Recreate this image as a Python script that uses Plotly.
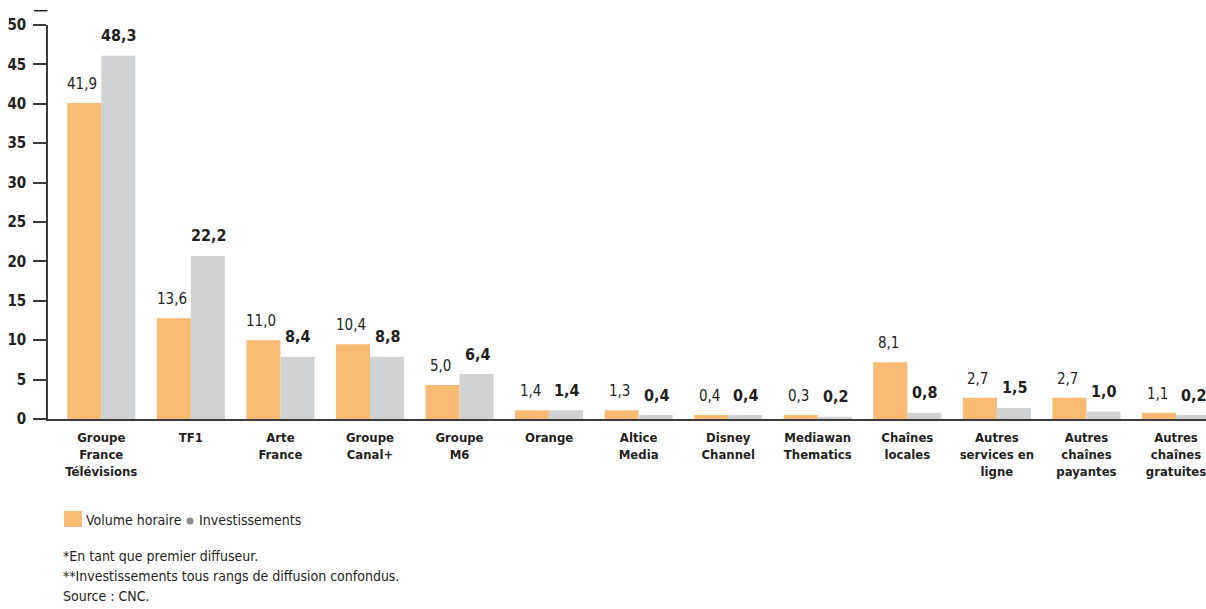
import plotly.graph_objects as go

categories = [
    "Groupe<br>France<br>Télévisions", "TF1", "Arte<br>France", "Groupe<br>Canal+",
    "Groupe<br>M6", "Orange", "Altice<br>Media", "Disney<br>Channel",
    "Mediawan<br>Thematics", "Chaînes<br>locales", "Autres<br>services en<br>ligne",
    "Autres<br>chaînes<br>payantes", "Autres<br>chaînes<br>gratuites",
]
# bar heights as drawn in the picture
volume_bars = [40.1, 12.8, 10.0, 9.5, 4.3, 1.1, 1.1, 0.5, 0.5, 7.2, 2.7, 2.7, 0.8]
invest_bars = [46.1, 20.7, 7.9, 7.9, 5.7, 1.1, 0.5, 0.5, 0.3, 0.8, 1.4, 0.95, 0.5]
# printed value labels
volume_labels = [41.9, 13.6, 11.0, 10.4, 5.0, 1.4, 1.3, 0.4, 0.3, 8.1, 2.7, 2.7, 1.1]
invest_labels = [48.3, 22.2, 8.4, 8.8, 6.4, 1.4, 0.4, 0.4, 0.2, 0.8, 1.5, 1.0, 0.2]
y_ticks = [0, 5, 10, 15, 20, 25, 30, 35, 40, 45, 50]

ORANGE = "#F9BA74"
GREY = "#D1D2D4"
TXT = "#231F20"
FONT = "DejaVu Sans Condensed, Liberation Sans Narrow, sans-serif"

W, H = 1206, 609
ML, MR, MT, MB = 48, 0, 25, 190
PW, PH = W - ML - MR, H - MT - MB


def px_x(x):
    return (x - ML) / PW


def px_y(y):
    return (H - MB - y) / PH


def fmt(v):
    return f"{v:.1f}".replace(".", ",")


fig = go.Figure()
fig.add_trace(go.Bar(x=categories, y=volume_bars, name="Volume horaire",
                     marker=dict(color=ORANGE, line=dict(width=0)), hoverinfo="skip"))
fig.add_trace(go.Bar(x=categories, y=invest_bars, name="Investissements",
                     marker=dict(color=GREY, line=dict(width=0)), hoverinfo="skip"))

annotations = []
for c, v, lab in zip(categories, volume_bars, volume_labels):
    annotations.append(dict(x=c, y=v, xref="x", yref="y", text=fmt(lab), showarrow=False,
                            xshift=-19, yshift=19, yanchor="middle",
                            font=dict(family=FONT, size=15, color=TXT)))
for c, v, lab in zip(categories, invest_bars, invest_labels):
    annotations.append(dict(x=c, y=v, xref="x", yref="y", text=f"<b>{fmt(lab)}</b>", showarrow=False,
                            xshift=18, yshift=20, yanchor="middle",
                            font=dict(family=FONT, size=16, color=TXT)))

# legend and footnotes
annotations.append(dict(x=px_x(84), y=px_y(520), xref="paper", yref="paper", text="Volume horaire",
                        showarrow=False, xanchor="left", yanchor="middle",
                        font=dict(family=FONT, size=14, color=TXT)))
annotations.append(dict(x=px_x(197), y=px_y(520), xref="paper", yref="paper", text="Investissements",
                        showarrow=False, xanchor="left", yanchor="middle",
                        font=dict(family=FONT, size=14, color=TXT)))
notes = ["*En tant que premier diffuseur.",
         "**Investissements tous rangs de diffusion confondus.",
         "Source : CNC."]
for i, t in enumerate(notes):
    annotations.append(dict(x=px_x(61), y=px_y(556 + 20 * i), xref="paper", yref="paper", text=t,
                            showarrow=False, xanchor="left", yanchor="middle",
                            font=dict(family=FONT, size=14, color=TXT)))

shapes = [
    dict(type="rect", xref="paper", yref="paper", x0=px_x(64), x1=px_x(82), y0=px_y(527), y1=px_y(511),
         fillcolor=ORANGE, line=dict(width=0)),
    dict(type="circle", xref="paper", yref="paper", x0=px_x(186.5), x1=px_x(193.5),
         y0=px_y(524.5), y1=px_y(517.5), fillcolor="#8C8C8C", line=dict(width=0)),
    dict(type="line", xref="paper", yref="paper", x0=px_x(34), x1=px_x(47.5), y0=px_y(10.7), y1=px_y(10.7),
         line=dict(color=TXT, width=1.5)),
]

fig.update_layout(
    width=W, height=H,
    margin=dict(l=ML, r=MR, t=MT, b=MB),
    paper_bgcolor="white", plot_bgcolor="white",
    barmode="group", bargap=0.24, bargroupgap=0,
    showlegend=False,
    annotations=annotations, shapes=shapes,
    font=dict(family=FONT, color=TXT),
)
fig.update_xaxes(range=[-0.595, 12.335], showline=True, linecolor="#3a3a3a", linewidth=1.5,
                 ticks="", showgrid=False, zeroline=False, tickangle=0, ticklabelstandoff=6,
                 tickfont=dict(family=FONT, size=13, color=TXT, weight="bold"))
fig.update_yaxes(range=[0, 50], tickvals=y_ticks, ticktext=[f"<b>{t}</b>" for t in y_ticks],
                 showline=True, linecolor="#3a3a3a", linewidth=1.5,
                 ticks="outside", ticklen=13, tickcolor="#3a3a3a", tickwidth=1.5,
                 showgrid=False, zeroline=False, ticklabelstandoff=4,
                 tickfont=dict(family=FONT, size=15, color=TXT))

fig.write_html("out.html", config={"displayModeBar": False},
               post_script="document.body.style.margin='0';")
